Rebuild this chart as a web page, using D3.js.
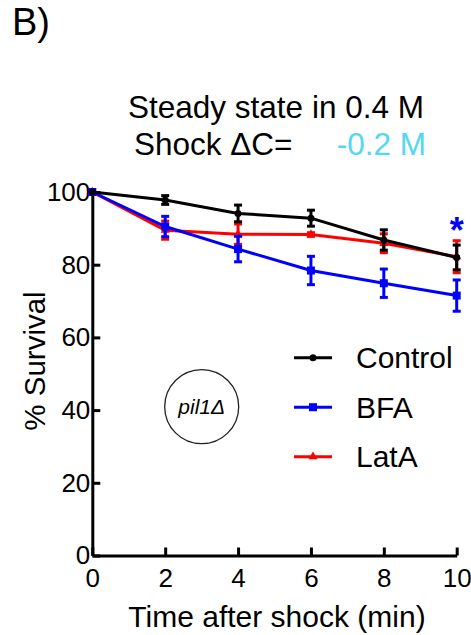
<!DOCTYPE html>
<html>
<head>
<meta charset="utf-8">
<script src="https://cdn.jsdelivr.net/npm/d3@7"></script>
<style>
  html, body { margin: 0; padding: 0; background: #fff; }
  svg { display: block; font-family: "Liberation Sans", Arial, sans-serif; }
</style>
</head>
<body>
<div id="chart"></div>
<script>
// time points (min)
const times = [0, 2, 4, 6, 8, 10];

// % survival, mean and error
const controlMean = [100, 97.8, 94.1, 92.8, 86.8, 82.0];
const controlErr = [0, 1.2, 2.3, 2.2, 2.8, 3.4];
const bfaMean = [100, 90.5, 84.3, 78.4, 74.9, 71.5];
const bfaErr = [0, 2.8, 3.5, 3.9, 3.9, 4.3];
const lataMean = [100, 89.5, 88.4, 88.3, 85.9, 82.2];
const lataErr = [0, 2.5, 2.8, 0.5, 2.6, 4.4];

const xTicks = [0, 2, 4, 6, 8, 10];
const yTicks = [0, 20, 40, 60, 80, 100];

const series = [
  { name: 'LatA', mean: lataMean, err: lataErr, color: '#ff0000', marker: 'triangle' },
  { name: 'BFA', mean: bfaMean, err: bfaErr, color: '#0000ff', marker: 'square' },
  { name: 'Control', mean: controlMean, err: controlErr, color: '#000000', marker: 'circle' }
];
const legendOrder = ['Control', 'BFA', 'LatA'];

const width = 471, height = 635;
const svg = d3.select('#chart').append('svg')
  .attr('width', width)
  .attr('height', height);

const x = d3.scaleLinear().domain([0, 10]).range([92.3, 456.7]);
const y = d3.scaleLinear().domain([0, 100]).range([555.5, 192]);

// panel letter and heading
svg.append('text').attr('x', 12).attr('y', 35)
  .style('font-size', '38px').text('B)');

svg.append('text').attr('x', 276).attr('y', 118)
  .attr('text-anchor', 'middle')
  .style('font-size', '31.5px').text('Steady state in 0.4 M');
svg.append('text').attr('x', 134).attr('y', 155)
  .style('font-size', '31.5px').text('Shock ΔC=');
svg.append('text').attr('x', 426).attr('y', 155)
  .attr('text-anchor', 'end').attr('fill', '#55d6f4')
  .style('font-size', '31.5px').text('-0.2 M');

// axes
const xAxis = svg.append('g')
  .attr('transform', `translate(0,${y(0)})`)
  .call(d3.axisBottom(x).tickValues(xTicks).tickSizeInner(-8).tickSizeOuter(0).tickPadding(13));
const yAxis = svg.append('g')
  .attr('transform', `translate(${x(0)},0)`)
  .call(d3.axisLeft(y).tickValues(yTicks).tickSizeInner(-8).tickSizeOuter(0).tickPadding(2));

[xAxis, yAxis].forEach(g => {
  g.select('.domain').attr('stroke', '#000').attr('stroke-width', 3);
  g.selectAll('.tick line').attr('stroke', '#000').attr('stroke-width', 3);
  g.selectAll('.tick text').attr('fill', '#000')
    .style('font-size', '26px').style('font-family', '"Liberation Sans", Arial, sans-serif');
});

svg.append('text')
  .attr('transform', `translate(45,361) rotate(-90)`)
  .attr('text-anchor', 'middle')
  .style('font-size', '29.5px').text('% Survival');
svg.append('text').attr('x', 277).attr('y', 627)
  .attr('text-anchor', 'middle')
  .style('font-size', '30px').text('Time after shock (min)');

// series
const line = d3.line().x((d, i) => x(times[i])).y(d => y(d));

function drawMarker(g, type, cx, cy, color) {
  if (type === 'circle') {
    g.append('circle').attr('cx', cx).attr('cy', cy).attr('r', 3.5).attr('fill', color);
  } else if (type === 'square') {
    g.append('rect').attr('x', cx - 4).attr('y', cy - 4).attr('width', 8).attr('height', 8).attr('fill', color);
  } else {
    g.append('path').attr('d', d3.symbol(d3.symbolTriangle, 36)()).attr('transform', `translate(${cx},${cy})`).attr('fill', color);
  }
}

series.forEach(s => {
  const g = svg.append('g');
  g.append('path').datum(s.mean)
    .attr('d', line).attr('fill', 'none')
    .attr('stroke', s.color).attr('stroke-width', 3);
  s.mean.forEach((m, i) => {
    const e = s.err[i];
    if (e > 0) {
      const cx = x(times[i]);
      g.append('line').attr('x1', cx).attr('x2', cx).attr('y1', y(m - e)).attr('y2', y(m + e))
        .attr('stroke', s.color).attr('stroke-width', 3);
      [m - e, m + e].forEach(v => {
        g.append('line').attr('x1', cx - 4).attr('x2', cx + 4).attr('y1', y(v)).attr('y2', y(v))
          .attr('stroke', s.color).attr('stroke-width', 3);
      });
    }
    drawMarker(g, s.marker, x(times[i]), y(m), s.color);
  });
});

// significance mark
svg.append('text').attr('x', x(10)).attr('y', 243)
  .attr('text-anchor', 'middle').attr('fill', '#0000ff')
  .style('font-size', '36px').style('font-weight', 'bold').text('*');

// strain label
svg.append('circle').attr('cx', 201.7).attr('cy', 406.7).attr('r', 37)
  .attr('fill', 'none').attr('stroke', '#222').attr('stroke-width', 1.3);
svg.append('text').attr('x', 201.7).attr('y', 414)
  .attr('text-anchor', 'middle').style('font-size', '21px').style('font-style', 'italic')
  .text('pil1Δ');

// legend
legendOrder.forEach((name, i) => {
  const s = series.find(d => d.name === name);
  const ly = 357.7 + i * 49.5;
  const g = svg.append('g');
  g.append('line').attr('x1', 294).attr('x2', 332).attr('y1', ly).attr('y2', ly)
    .attr('stroke', s.color).attr('stroke-width', 3);
  drawMarker(g, s.marker, 313, ly, s.color);
  g.append('text').attr('x', 356).attr('y', ly + 10.5)
    .style('font-size', '30px').text(name);
});
</script>
</body>
</html>
